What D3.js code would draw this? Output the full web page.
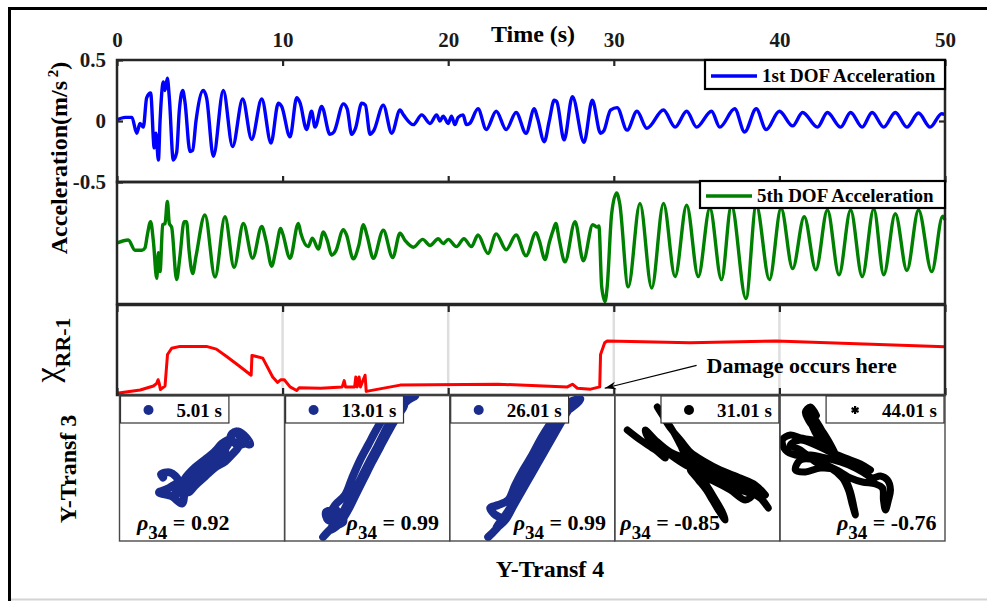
<!DOCTYPE html>
<html>
<head>
<meta charset="utf-8">
<script src="https://cdn.jsdelivr.net/npm/d3@7"></script>
<style>
  body { margin: 0; background: #fff; }
  svg { display: block; font-family: "Liberation Serif", "Times New Roman", serif; font-weight: bold; }
</style>
</head>
<body>
<svg id="chart" width="987" height="601"></svg>
<script>
// ---- data -------------------------------------------------------------
const timeTicks = [0, 10, 20, 30, 40, 50];
const accTicks = [0.5, 0, -0.5];

// 1st DOF acceleration (m/s^2), sampled at its turning points
const dof1T = [0,0.5,0.9,1.19,1.39,1.59,1.79,2.03,2.25,2.35,2.5,2.6,2.8,2.9,3.04,3.16,3.4,3.6,3.76,3.97,4.1,4.41,4.57,4.77,5.21,5.41,5.82,6.42,6.98,7.59,8.13,8.74,9.3,9.74,9.94,10.45,10.85,11.05,11.45,11.75,11.96,12.36,12.86,13.1,13.67,13.9,14.17,14.4,14.78,15.0,15.28,15.5,16.08,16.59,17.09,17.3,17.89,18.4,18.9,19.3,19.5,19.7,20.0,20.2,20.4,20.6,20.9,21.1,21.3,21.8,22.3,22.9,23.5,24.1,24.7,25.2,25.4,25.8,26.1,26.4,26.55,27.0,27.5,28.2,28.7,29.2,29.4,29.8,30.2,30.8,31.4,32.0,33.0,33.7,34.4,35.0,35.9,36.4,37.3,37.9,38.6,39.2,40.0,40.8,41.4,42.3,42.9,43.7,44.3,45.0,45.6,46.3,47.0,47.7,48.4,49.1,49.8,50];
const dof1A = [0.01,0.03,0.03,-0.10,-0.02,-0.05,0.19,0.23,-0.22,-0.10,-0.32,0.0,0.32,0.25,0.35,0.19,-0.32,-0.26,0.08,0.25,0.16,-0.25,-0.24,0.0,0.25,0.19,-0.29,0.25,-0.21,0.18,-0.15,0.18,-0.18,0.145,0.12,-0.13,0.19,0.15,-0.07,0.08,-0.05,0.12,-0.11,-0.09,0.14,0.10,-0.11,-0.06,0.145,0.13,-0.11,-0.08,0.13,-0.10,0.09,0.05,-0.03,0.05,-0.02,0.05,0.0,0.04,-0.02,0.04,-0.03,0.03,0.05,-0.03,-0.02,0.10,-0.07,0.08,-0.07,0.07,-0.10,0.10,0.02,-0.17,0.0,0.17,0.16,-0.155,0.20,-0.175,0.17,-0.10,-0.08,0.09,0.11,-0.075,0.08,-0.06,0.09,-0.05,0.08,-0.05,0.08,-0.05,0.10,-0.09,0.10,-0.07,0.08,-0.04,0.07,-0.05,0.07,-0.05,0.07,-0.05,0.07,-0.05,0.07,-0.05,0.065,-0.05,0.06,0.055];

// 5th DOF acceleration (m/s^2)
const dof5T = [0,0.68,1.09,1.5,1.69,1.83,2.03,2.2,2.4,2.5,2.6,2.76,2.9,3.04,3.16,3.3,3.6,3.8,4.05,4.2,4.35,4.57,4.77,5.31,5.92,6.52,7.07,7.63,8.19,8.74,9.0,9.34,9.6,9.88,10.0,10.45,10.95,11.1,11.55,11.8,12.16,12.46,12.7,12.96,13.2,13.67,13.85,14.27,14.6,14.88,15.1,15.48,16.08,16.65,17.09,17.4,17.9,18.46,18.9,19.4,19.7,20.0,20.5,20.95,21.4,21.8,22.4,22.9,23.5,24.1,24.7,25.3,25.5,25.85,26.1,26.35,26.5,26.7,27.05,27.66,28.16,28.73,29.0,29.1,29.27,29.47,29.6,29.87,30.17,30.35,30.87,31.58,32.29,33.0,33.7,34.4,35.1,35.8,36.5,37.1,37.98,38.6,39.4,40.1,40.8,41.5,42.2,42.9,43.6,44.3,45.0,45.7,46.3,47.0,47.7,48.4,49.2,49.86,50];
const dof5A = [0.0,0.025,-0.06,-0.06,-0.04,0.065,0.175,0.01,-0.29,-0.08,-0.235,0.15,0.16,0.34,0.16,0.13,-0.30,-0.11,0.175,0.175,-0.06,-0.25,-0.11,0.23,-0.28,0.215,-0.20,0.16,-0.125,0.135,0.02,-0.19,-0.05,0.12,0.08,-0.125,0.16,0.08,-0.03,0.04,-0.05,0.09,0.02,-0.10,-0.07,0.11,0.07,-0.13,-0.02,0.15,0.06,-0.125,0.105,-0.12,0.08,0.02,-0.035,0.03,-0.02,0.035,-0.005,0.03,-0.03,0.035,-0.03,0.065,-0.085,0.075,-0.055,0.065,-0.105,0.085,0.02,-0.135,0.0,0.11,0.16,0.03,-0.155,0.175,-0.145,0.15,0.13,0.14,-0.36,-0.48,-0.36,0.24,0.41,0.33,-0.36,0.325,-0.37,0.325,-0.275,0.31,-0.275,0.285,-0.30,0.31,-0.455,0.31,-0.30,0.285,-0.21,0.215,-0.22,0.27,-0.26,0.27,-0.275,0.28,-0.26,0.24,-0.225,0.27,-0.235,0.22,0.19];

// damage index chi_RR-1 (normalised)
const chiT = [0,1.4,2.2,2.4,2.48,2.55,2.62,2.9,3.05,3.3,3.8,5.4,6.0,6.6,7.4,8.1,8.15,8.8,9.4,9.7,9.9,10.1,10.45,10.85,11.0,12.3,13.6,13.72,13.8,14.35,14.42,14.5,14.62,14.7,14.98,15.05,17.1,23.0,27.2,27.5,27.8,28.6,29.15,29.2,29.45,29.6,34.6,39.8,50];
const chiV = [0.02,0.055,0.10,0.13,0.17,0.13,0.06,0.10,0.45,0.52,0.54,0.54,0.51,0.43,0.32,0.22,0.44,0.41,0.20,0.14,0.17,0.17,0.09,0.05,0.08,0.075,0.09,0.16,0.09,0.09,0.20,0.09,0.20,0.09,0.22,0.04,0.11,0.12,0.09,0.12,0.075,0.065,0.09,0.45,0.58,0.60,0.58,0.60,0.535];

// phase portraits Y-Transf 4 (x) vs Y-Transf 3 (y) at five instants
const snapLabels = ["5.01 s", "13.01 s", "26.01 s", "31.01 s", "44.01 s"];
const rhoValues = ["0.92", "0.99", "0.99", "-0.85", "-0.76"];
const snap1 = [[-3.9,-0.9],[-4.1,-0.6],[-3.2,-0.4],[-2.4,-1.2],[-3.4,-2.0],[-4.3,-2.4],[-3.0,-2.8],[-2.0,-3.5],[-1.7,-2.2],[-1.2,-1.2],[-0.2,-0.2],[0.8,0.9],[1.6,1.9],[2.3,2.4],[3.0,3.3],[3.4,3.7],[3.8,3.1],[3.6,2.1],[3.0,1.4],[2.3,0.7],[1.3,0.1],[0.3,-0.8],[-0.7,-1.7],[-1.4,-2.4],[-2.2,-2.2],[-1.7,-1.0],[-0.7,0.1],[0.3,0.9],[1.3,1.7],[2.0,2.5],[2.8,2.9],[3.6,2.3],[4.3,2.5],[4.8,2.4],[4.4,3.1],[3.6,3.7],[3.0,3.5],[2.6,2.4],[1.8,1.4],[0.8,0.7],[-0.2,-0.4],[-1.2,-1.4],[-2.0,-2.2],[-2.7,-2.6],[-2.2,-1.6],[-1.0,-0.6],[0.2,0.4],[1.0,1.4],[1.8,2.1],[2.3,1.9],[1.8,0.7],[0.8,-0.2],[-0.4,-1.0],[-1.6,-2.0]];
const snap2 = [[-4.4,-6.85],[-3.4,-5.85],[-2.4,-5.35],[-2.7,-4.35],[-3.7,-4.65],[-3.2,-3.65],[-2.2,-2.65],[-1.5,-0.95],[-0.7,0.85],[0.1,2.35],[0.9,3.85],[1.8,5.35],[2.6,6.35],[3.3,6.85],[4.3,7.15],[4.8,7.25],[4.1,6.85],[3.1,5.85],[2.3,4.35],[1.5,2.85],[0.7,1.35],[-0.1,-0.15],[-0.9,-1.65],[-1.7,-3.15],[-2.4,-4.35],[-3.1,-5.35],[-3.7,-6.15],[-2.9,-5.65],[-1.9,-4.15],[-1.1,-2.55],[-0.3,-0.95],[0.5,0.65],[1.3,2.15],[2.1,3.65],[2.9,5.05],[3.7,6.35],[3.2,6.35],[2.5,5.05],[1.7,3.55],[1.0,2.15],[0.2,0.65],[-0.6,-0.95],[-1.4,-2.55],[-2.2,-3.95],[-2.7,-5.15],[-3.9,-5.15],[-4.1,-4.35],[-3.1,-4.15]];
const snap3 = [[-4.4,-6.85],[-3.7,-6.15],[-3.0,-5.15],[-3.8,-4.55],[-4.2,-3.95],[-3.4,-3.65],[-2.4,-3.15],[-1.7,-1.65],[-0.9,-0.15],[0,1.35],[0.8,2.85],[1.6,4.15],[2.4,5.35],[3.2,6.25],[4.0,6.75],[4.8,6.95],[4.4,6.45],[3.4,5.65],[2.6,4.35],[1.8,3.05],[1.0,1.65],[0.2,0.25],[-0.6,-1.15],[-1.4,-2.55],[-2.2,-3.95],[-2.9,-4.95],[-3.6,-5.95],[-2.7,-5.15],[-1.9,-3.75],[-1.1,-2.35],[-0.3,-0.95],[0.5,0.45],[1.3,1.85],[2.1,3.25],[2.9,4.65],[3.6,5.85],[3.0,4.85],[2.2,3.45],[1.4,2.05],[0.6,0.65],[-0.2,-0.75],[-1.0,-2.15],[-1.8,-3.35]];
const snap4 = [[-7.0,3.85],[-5.7,2.85],[-4.2,1.85],[-3.2,1.05],[-4.9,3.05],[-5.2,3.85],[-4.2,2.85],[-2.7,1.65],[-0.7,0.85],[0.3,0.35],[1.8,-0.15],[3.8,-0.95],[5.3,-1.95],[6.3,-2.95],[7.1,-3.95],[6.5,-3.15],[5.3,-2.35],[3.8,-1.65],[2.3,-0.95],[0.8,-0.15],[-0.7,0.65],[-2.2,1.35],[-3.7,2.15],[-2.7,1.35],[-1.2,0.35],[0.3,-0.35],[1.5,-0.95],[2.8,-1.55],[4.3,-2.15],[5.5,-2.65],[4.8,-3.15],[3.3,-2.15],[1.8,-1.35],[0.3,-0.75],[-0.7,-0.15],[0.1,-1.15],[0.9,-2.15],[1.5,-3.15],[2.1,-4.15],[2.8,-5.15],[2.5,-4.35],[1.7,-2.95],[0.9,-1.65],[-0.1,-0.15],[-1.2,1.35],[-1.7,2.35],[-2.5,3.85],[-3.3,5.05],[-4.0,6.15],[-3.5,5.35],[-2.7,4.05],[-1.7,2.85],[-0.7,1.65],[0.8,0.65],[2.3,-0.15],[4.3,-0.95],[5.8,-1.65],[6.8,-2.65]];
const snap5 = [[-4.6,5.3],[-5.2,6.15],[-5.7,5.65],[-5.4,4.85],[-4.7,3.85],[-4.0,2.85],[-3.2,1.85],[-2.7,1.35],[-3.3,2.6],[-4.1,3.9],[-4.8,5.0],[-5.3,5.5],[-5.0,4.2],[-4.4,3.1],[-3.7,2.35],[-5.0,2.85],[-6.2,3.05],[-7.2,3.35],[-8.0,2.85],[-7.7,1.85],[-6.7,1.35],[-5.2,1.35],[-3.7,1.05],[-2.2,0.65],[-0.7,0.05],[0.3,-0.55],[1.0,-0.95],[1.8,-0.75],[2.5,-1.15],[2.8,-2.15],[2.6,-3.15],[2.3,-4.15],[2.1,-3.15],[2.0,-1.95],[1.3,-1.55],[0,-1.35],[-1.2,-0.95],[-2.2,-0.35],[-3.4,0.25],[-4.7,0.85],[-6.2,0.85],[-6.7,-0.15],[-5.7,-0.35],[-4.2,0.05],[-2.7,-0.15],[-1.7,-1.15],[-1.2,-2.35],[-0.9,-3.65],[-0.7,-4.65],[-1.0,-3.65],[-1.4,-2.15],[-2.0,-0.95],[-3.2,0.05],[-4.7,0.65],[-6.2,1.85],[-7.2,2.35],[-6.2,2.85],[-4.7,2.35],[-3.2,1.65],[-1.7,1.05],[-0.2,0.45],[0.8,-0.15]];
const snapData = [snap1, snap2, snap3, snap4, snap5];
const snapColors = ["#1a2d8c", "#1a2d8c", "#1a2d8c", "#000000", "#000000"];
const snapMarkers = ["circle", "circle", "circle", "circle", "asterisk"];

// ---- layout -----------------------------------------------------------
const svg = d3.select("#chart");
const L = 117, R = 945;
const axisColor = "#262626";
const x = d3.scaleLinear([0, 50], [L, R]);
const yA = d3.scaleLinear([-0.5, 0.5], [182, 60]);
const yB = d3.scaleLinear([-0.5, 0.5], [304, 182]);
const yC = d3.scaleLinear([0, 1], [395, 305]);

// outer figure frame
svg.append("path").attr("d", "M9.5,601V8.5H987")
  .attr("fill", "none").attr("stroke", "#000").attr("stroke-width", 3);
svg.append("line").attr("x1", 11).attr("x2", 987).attr("y1", 599.5).attr("y2", 599.5)
  .attr("stroke", "#d4d4d4").attr("stroke-width", 2);

// grid lines in the damage-index panel
svg.append("g").selectAll("line").data([10, 20, 30, 40]).join("line")
  .attr("x1", d => x(d)).attr("x2", d => x(d))
  .attr("y1", yC.range()[1]).attr("y2", yC.range()[0])
  .attr("stroke", "#dedede").attr("stroke-width", 2.5);

// signals
const lineA = d3.line().x((d, i) => x(dof1T[i])).y(d => yA(d)).curve(d3.curveMonotoneX);
const lineB = d3.line().x((d, i) => x(dof5T[i])).y(d => yB(d)).curve(d3.curveMonotoneX);
const lineC = d3.line().x((d, i) => x(chiT[i])).y(d => yC(d));

svg.append("path").attr("d", lineA(dof1A)).attr("fill", "none")
  .attr("stroke", "#0000ff").attr("stroke-width", 3.4).attr("stroke-linejoin", "round");
svg.append("path").attr("d", lineB(dof5A)).attr("fill", "none")
  .attr("stroke", "#008000").attr("stroke-width", 3.4).attr("stroke-linejoin", "round");
svg.append("path").attr("d", lineC(chiV)).attr("fill", "none")
  .attr("stroke", "#ff0000").attr("stroke-width", 3).attr("stroke-linejoin", "round");

// panel frames
[[yA], [yB], [yC]].forEach(([s]) => {
  const [b, t] = s.range();
  svg.append("rect").attr("x", L).attr("y", t).attr("width", R - L).attr("height", b - t)
    .attr("fill", "none").attr("stroke", axisColor).attr("stroke-width", 2.5);
});

function styleAxis(g, size) {
  g.select(".domain").remove();
  g.attr("font-family", null).attr("font-size", size).attr("font-weight", "bold");
  g.selectAll(".tick line").attr("stroke", axisColor).attr("stroke-width", 2.2);
  g.selectAll(".tick text").attr("fill", "#1a1a1a");
}

// time axis on top
svg.append("g").attr("transform", `translate(0,${yA.range()[1]})`)
  .call(d3.axisTop(x).tickValues(timeTicks).tickSizeInner(-6).tickSizeOuter(0).tickPadding(13))
  .call(g => styleAxis(g, 21));
svg.append("g").attr("transform", `translate(0,${yA.range()[0]})`)
  .call(d3.axisBottom(x).tickValues(timeTicks).tickSizeInner(-6).tickSizeOuter(0).tickFormat(() => ""))
  .call(g => styleAxis(g, 21));
svg.append("g").attr("transform", `translate(0,${yC.range()[1]})`)
  .call(d3.axisTop(x).tickValues(timeTicks).tickSizeInner(-7).tickSizeOuter(0).tickFormat(() => ""))
  .call(g => styleAxis(g, 21));
svg.append("g").attr("transform", `translate(0,${yC.range()[0]})`)
  .call(d3.axisBottom(x).tickValues(timeTicks).tickSizeInner(-7).tickSizeOuter(0).tickFormat(() => ""))
  .call(g => styleAxis(g, 21));

// acceleration axis
svg.append("g").attr("transform", `translate(${L},0)`)
  .call(d3.axisLeft(yA).tickValues(accTicks).tickSizeInner(-6).tickSizeOuter(0).tickPadding(11)
    .tickFormat(d => String(d)))
  .call(g => styleAxis(g, 21));
svg.append("g").attr("transform", `translate(${R},0)`)
  .call(d3.axisRight(yA).tickValues([0]).tickSizeInner(-6).tickSizeOuter(0).tickFormat(() => ""))
  .call(g => styleAxis(g, 21));

// axis titles
svg.append("text").attr("x", 533).attr("y", 42).attr("text-anchor", "middle")
  .attr("font-size", 24).attr("fill", "#000").text("Time (s)");

const accLabel = svg.append("text").attr("transform", "translate(67,158) rotate(-90)")
  .attr("text-anchor", "middle").attr("font-size", 24).attr("fill", "#000");
accLabel.append("tspan").text("Acceleration(m/s");
accLabel.append("tspan").attr("dy", -9).attr("font-size", 15).text(" 2");
accLabel.append("tspan").attr("dy", 9).text(")");

const chiLabel = svg.append("text").attr("transform", "translate(58,350) rotate(-90)")
  .attr("text-anchor", "middle").attr("fill", "#000");
chiLabel.append("tspan").attr("font-size", 34).attr("font-weight", "normal").text("χ");
chiLabel.append("tspan").attr("font-size", 22).attr("dy", 12).text("RR-1");

svg.append("text").attr("transform", "translate(76,469) rotate(-90)")
  .attr("text-anchor", "middle").attr("font-size", 24).attr("fill", "#000").text("Y-Transf 3");
svg.append("text").attr("x", 550).attr("y", 577).attr("text-anchor", "middle")
  .attr("font-size", 24).attr("fill", "#000").text("Y-Transf 4");

// legends of the two acceleration panels
function seriesLegend(top, w, h, color, label) {
  const g = svg.append("g").attr("transform", `translate(${R - w},${top})`);
  g.append("rect").attr("width", w).attr("height", h).attr("fill", "#fff")
    .attr("stroke", "#000").attr("stroke-width", 2.2);
  g.append("line").attr("x1", 6).attr("x2", 52).attr("y1", h / 2 + 1.5).attr("y2", h / 2 + 1.5)
    .attr("stroke", color).attr("stroke-width", 3.4);
  g.append("text").attr("x", 57).attr("y", h / 2 + 7.5).attr("font-size", 19)
    .attr("fill", "#000").text(label);
}
seriesLegend(60, 240, 29, "#0000ff", "1st DOF Acceleration");
seriesLegend(181, 245, 27, "#008000", "5th DOF Acceleration");

// damage annotation
const arrowFrom = [x(35.0), yC(0.33)], arrowTo = [x(29.45), yC(0.075)];
svg.append("line").attr("x1", arrowFrom[0]).attr("y1", arrowFrom[1])
  .attr("x2", arrowTo[0]).attr("y2", arrowTo[1]).attr("stroke", "#000").attr("stroke-width", 1.2);
{
  const ang = Math.atan2(arrowFrom[1] - arrowTo[1], arrowFrom[0] - arrowTo[0]);
  const len = 12, half = 0.32, back = 8;
  const p = (a, r) => [arrowTo[0] + r * Math.cos(a), arrowTo[1] + r * Math.sin(a)];
  const a1 = p(ang + half, len), a2 = p(ang - half, len), a3 = p(ang, back);
  svg.append("path").attr("d", `M${arrowTo}L${a1}L${a3}L${a2}Z`).attr("fill", "#000");
}
svg.append("text").attr("x", x(35.6)).attr("y", yC(0.245)).attr("font-size", 22)
  .attr("fill", "#000").text("Damage occurs here");

// ---- phase-portrait panels ---------------------------------------------
const pTop = 396, pBot = 541, pLeft = 119.5, pW = 165.1;
const defs = svg.append("defs");
snapData.forEach((pts, i) => {
  const x0 = pLeft + i * pW;
  const sx = d3.scaleLinear([-8.25, 8.25], [x0, x0 + pW]);
  const sy = d3.scaleLinear([-7.25, 7.25], [pBot, pTop]);
  defs.append("clipPath").attr("id", "clip" + i).append("rect")
    .attr("x", x0).attr("y", pTop - 1).attr("width", pW).attr("height", pBot - pTop + 1);
  const g = svg.append("g");
  g.append("path").attr("clip-path", `url(#clip${i})`)
    .attr("d", d3.line().x(d => sx(d[0])).y(d => sy(d[1])).curve(d3.curveCatmullRom)(pts))
    .attr("fill", "none").attr("stroke", snapColors[i])
    .attr("stroke-width", i < 3 ? 8 : 7).attr("stroke-linejoin", "round").attr("stroke-linecap", "round");
  g.append("rect").attr("x", x0).attr("y", pTop - 1).attr("width", pW).attr("height", pBot - pTop + 1)
    .attr("fill", "none").attr("stroke", "#4a4a4a").attr("stroke-width", 1.4);

  // legend box
  const lg = g.append("g");
  const txt = lg.append("text").attr("font-size", 19).attr("fill", "#000").text(snapLabels[i]);
  const tw = txt.node().getComputedTextLength();
  const bw = 56 + tw + 7, bh = 27;
  const bx = i < 3 ? x0 + 1 : x0 + pW - 1 - bw;
  lg.insert("rect", "text").attr("x", bx).attr("y", pTop).attr("width", bw).attr("height", bh)
    .attr("fill", "#fff").attr("stroke", "#333").attr("stroke-width", 1.2);
  txt.attr("x", bx + 56).attr("y", pTop + 20.5);
  if (snapMarkers[i] === "circle") {
    lg.append("circle").attr("cx", bx + 28).attr("cy", pTop + 14).attr("r", 5).attr("fill", snapColors[i]);
  } else {
    lg.append("path").attr("transform", `translate(${bx + 29},${pTop + 14})`)
      .attr("d", d3.symbol(d3.symbolAsterisk, 45)()).attr("stroke", snapColors[i]).attr("stroke-width", 2.2);
  }

  // correlation coefficient
  const rhoX = [17.5, 62, 64, 5.5, 57][i];
  const rt = g.append("text").attr("x", x0 + rhoX).attr("y", 529.5).attr("font-size", 22).attr("fill", "#000");
  rt.append("tspan").attr("font-style", "italic").text("ρ");
  rt.append("tspan").attr("font-size", 19).attr("dy", 9).text("34");
  rt.append("tspan").attr("dy", -9).text(" = " + rhoValues[i]);
});
</script>
</body>
</html>
